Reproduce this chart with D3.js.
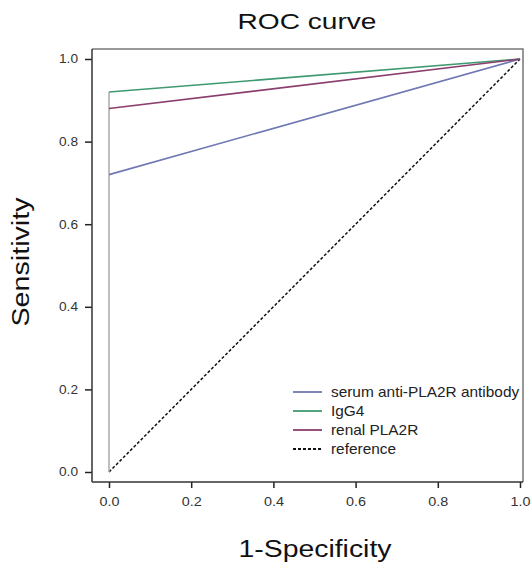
<!DOCTYPE html>
<html>
<head>
<meta charset="utf-8">
<script src="https://cdn.jsdelivr.net/npm/d3@7"></script>
<style>
  body { margin: 0; background: #fff; }
  svg { font-family: "Liberation Sans", Arial, sans-serif; }
</style>
</head>
<body>
<div id="chart"></div>
<script>
// chart data
var seriesNames = ["serum anti-PLA2R antibody", "IgG4", "renal PLA2R"];
var seriesColors = ["#6f78b4", "#3f9a70", "#8b3d6e"];
var sensAtZero = [0.72, 0.92, 0.88];   // sensitivity reached at 1-specificity = 0
var referenceLine = [[0, 0], [1, 1]];
var tickValues = [0, 0.2, 0.4, 0.6, 0.8, 1.0];

var width = 531, height = 564;

// frame of the plot area
var frame = {left: 92, right: 523, top: 49, bottom: 482};

var x = d3.scaleLinear().domain([0, 1]).range([109, 520]);
var y = d3.scaleLinear().domain([0, 1]).range([472, 59]);

var svg = d3.select("#chart").append("svg")
    .attr("width", width)
    .attr("height", height);

// top and right frame (gray)
svg.append("path")
    .attr("d", "M" + frame.left + "," + frame.top + "H" + frame.right + "V" + frame.bottom)
    .attr("fill", "none")
    .attr("stroke", "#777")
    .attr("stroke-width", 1.5);

// x axis
var xAxis = d3.axisBottom(x).tickValues(tickValues).tickFormat(d3.format(".1f")).tickSize(6).tickPadding(9);
var gx = svg.append("g")
    .attr("transform", "translate(0," + frame.bottom + ")")
    .call(xAxis);
gx.select(".domain").remove();
gx.selectAll(".tick line").attr("stroke", "#222").attr("stroke-width", 1.5);
gx.selectAll(".tick text")
    .style("font-size", "13px")
    .attr("fill", "#333")
    .attr("textLength", 20)
    .attr("lengthAdjust", "spacingAndGlyphs");
svg.append("line")
    .attr("x1", frame.left).attr("x2", frame.right)
    .attr("y1", frame.bottom).attr("y2", frame.bottom)
    .attr("stroke", "#333").attr("stroke-width", 1.5);

// y axis
var yAxis = d3.axisLeft(y).tickValues(tickValues).tickFormat(d3.format(".1f")).tickSize(7).tickPadding(7);
var gy = svg.append("g")
    .attr("transform", "translate(" + frame.left + ",0)")
    .call(yAxis);
gy.select(".domain").remove();
gy.selectAll(".tick line").attr("stroke", "#222").attr("stroke-width", 1.5);
gy.selectAll(".tick text")
    .style("font-size", "12px")
    .attr("fill", "#333")
    .attr("textLength", 19)
    .attr("lengthAdjust", "spacingAndGlyphs");
svg.append("line")
    .attr("x1", frame.left).attr("x2", frame.left)
    .attr("y1", frame.top).attr("y2", frame.bottom)
    .attr("stroke", "#333").attr("stroke-width", 1.5);

var line = d3.line()
    .x(function(d) { return x(d[0]); })
    .y(function(d) { return y(d[1]); });

// reference diagonal
svg.append("path")
    .datum(referenceLine)
    .attr("d", line)
    .attr("fill", "none")
    .attr("stroke", "#111")
    .attr("stroke-width", 1.5)
    .attr("stroke-dasharray", "3,2");

// shared vertical step at 1-specificity = 0 (lines overlap, shows gray)
svg.append("path")
    .datum([[0, 0], [0, d3.max(sensAtZero)]])
    .attr("d", line)
    .attr("fill", "none")
    .attr("stroke", "#aaa")
    .attr("stroke-width", 1.5);

// ROC curves
seriesNames.forEach(function(name, i) {
    svg.append("path")
        .datum([[0, sensAtZero[i]], [1, 1]])
        .attr("d", line)
        .attr("fill", "none")
        .attr("stroke", seriesColors[i])
        .attr("stroke-width", 1.6);
});

// legend
var legendItems = seriesNames.map(function(n, i) { return {name: n, color: seriesColors[i], dash: null}; });
legendItems.push({name: "reference", color: "#111", dash: "3,2"});

var legend = svg.selectAll(".legend")
    .data(legendItems)
    .enter().append("g")
    .attr("class", "legend")
    .attr("transform", function(d, i) { return "translate(293," + (392 + i * 19) + ")"; });

legend.append("line")
    .attr("x1", 0).attr("x2", 29)
    .attr("stroke", function(d) { return d.color; })
    .attr("stroke-width", 1.8)
    .attr("stroke-dasharray", function(d) { return d.dash; });

legend.append("text")
    .attr("transform", "translate(38,0) scale(1.1,1)")
    .attr("dy", "0.35em")
    .style("font-size", "14px")
    .attr("fill", "#222")
    .text(function(d) { return d.name; });

// title
svg.append("text")
    .attr("x", 307)
    .attr("y", 29)
    .attr("text-anchor", "middle")
    .attr("textLength", 139)
    .attr("lengthAdjust", "spacingAndGlyphs")
    .style("font-size", "22px")
    .attr("fill", "#111")
    .text("ROC curve");

// x label
svg.append("text")
    .attr("x", 315)
    .attr("y", 557)
    .attr("text-anchor", "middle")
    .attr("textLength", 153)
    .attr("lengthAdjust", "spacingAndGlyphs")
    .style("font-size", "23px")
    .attr("fill", "#111")
    .text("1-Specificity");

// y label
svg.append("text")
    .attr("transform", "translate(29,262) rotate(-90)")
    .attr("text-anchor", "middle")
    .attr("textLength", 129)
    .attr("lengthAdjust", "spacingAndGlyphs")
    .style("font-size", "23px")
    .attr("fill", "#111")
    .text("Sensitivity");
</script>
</body>
</html>
